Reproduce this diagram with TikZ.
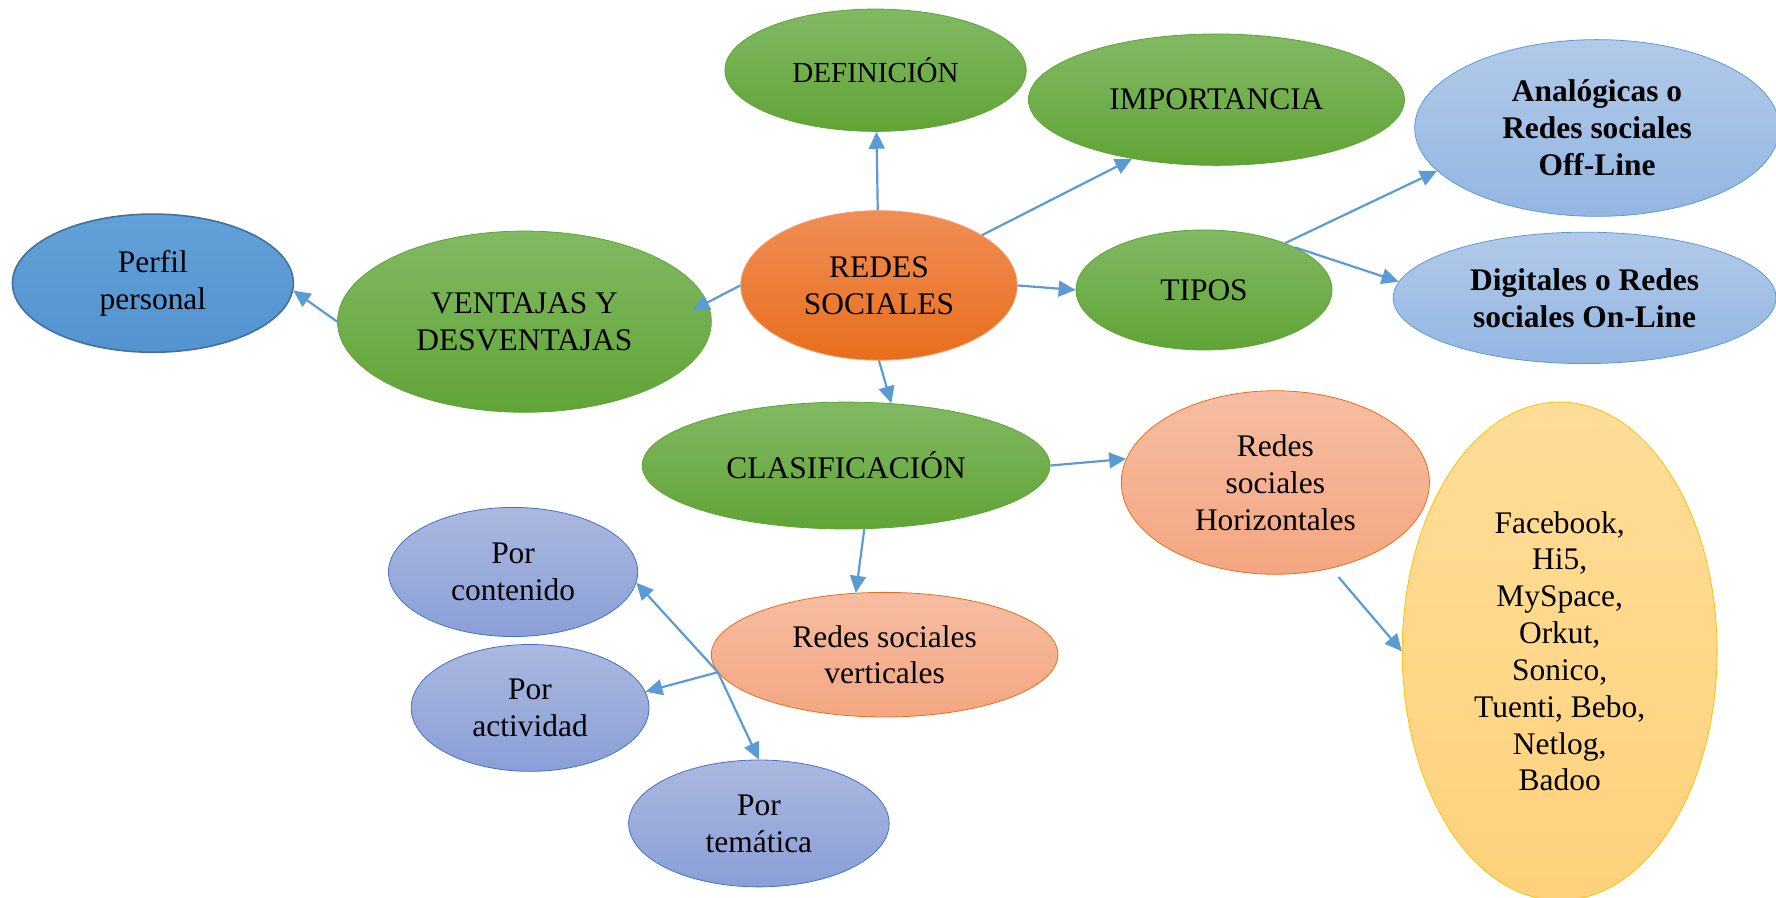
\documentclass[tikz,border=0pt]{standalone}
\usepackage{fontspec}
\setmainfont{Liberation Serif}
\usetikzlibrary{shapes.geometric,arrows.meta}

\definecolor{verdeA}{HTML}{82B963}
\definecolor{verdeB}{HTML}{60A436}
\definecolor{naranjaA}{HTML}{F08D55}
\definecolor{naranjaB}{HTML}{E86E1C}
\definecolor{naranjaC}{HTML}{F3A06C}
\definecolor{azulA}{HTML}{62A0D8}
\definecolor{azulB}{HTML}{5393D0}
\definecolor{azulC}{HTML}{41719C}
\definecolor{celesteA}{HTML}{B2CAE9}
\definecolor{celesteB}{HTML}{93B6E2}
\definecolor{salmonA}{HTML}{F6BDA2}
\definecolor{salmonB}{HTML}{F4A681}
\definecolor{amarilloA}{HTML}{FFDD98}
\definecolor{amarilloB}{HTML}{FED27C}
\definecolor{amarilloC}{HTML}{FFC000}
\definecolor{lilaA}{HTML}{ABB8DF}
\definecolor{lilaB}{HTML}{8A9FD7}
\definecolor{lilaC}{HTML}{4472C4}
\definecolor{flechaazul}{HTML}{5B9BD5}

\begin{document}
\begin{tikzpicture}[x=0.2mm,y=-0.2mm]
  \tikzset{burbuja/.style = {ellipse, inner sep = 0pt, align = center,
      font = \fontsize{15.8}{18.5}\selectfont},
    tam/.style 2 args = {minimum width = #1*0.4mm, minimum height = #2*0.4mm},
    verde/.style = {burbuja, top color = verdeA, bottom color = verdeB, draw = verdeB},
    naranja/.style = {burbuja, top color = naranjaA, bottom color = naranjaB, draw = naranjaC},
    azul/.style = {burbuja, top color = azulA, bottom color = azulB, draw = azulC, thick},
    celeste/.style = {burbuja, top color = celesteA, bottom color = celesteB, draw = flechaazul,
      font = \fontsize{15.8}{18.5}\selectfont\bfseries},
    salmon/.style = {burbuja, top color = salmonA, bottom color = salmonB, draw = naranjaB},
    amarillo/.style = {burbuja, top color = amarilloA, bottom color = amarilloB, draw = amarilloC},
    lila/.style = {burbuja, top color = lilaA, bottom color = lilaB, draw = lilaC},
    flecha/.style = {draw = flechaazul, line width = 1.1pt,
      -{Triangle[length = 3mm, width = 2.8mm]}}}
  \useasboundingbox (0,0) rectangle (1568,792);

  \node[naranja, tam={122}{66}] (redes) at (776,252) {REDES\\SOCIALES};
  \node[verde, tam={133}{54}, font=\fontsize{14.6}{17}\selectfont] (defin) at (773,62) {DEFINICIÓN};
  \node[verde, tam={166}{58}] (impor) at (1074,88) {IMPORTANCIA};
  \node[verde, tam={165}{80}] (ventajas) at (463,284) {VENTAJAS Y\\DESVENTAJAS};
  \node[azul, tam={124}{61}] (perfil) at (135,250) {Perfil\\personal};
  \node[verde, tam={113}{53}] (tipos) at (1063,256) {TIPOS};
  \node[celeste, tam={161}{78}] (analog) at (1410,113) {Analógicas o\\Redes sociales\\Off-Line};
  \node[celeste, tam={169}{58}] (digit) at (1399,263) {Digitales o Redes\\sociales On-Line};
  \node[verde, tam={180}{56}] (clasif) at (747,411) {CLASIFICACIÓN};
  \node[salmon, tam={136}{81}] (horiz) at (1126,426) {Redes\\sociales\\Horizontales};
  \node[amarillo, tam={139}{220}] (ejemplos) at (1377,575)
    {Facebook,\\Hi5,\\MySpace,\\Orkut,\\Sonico,\\Tuenti, Bebo,\\Netlog,\\Badoo};
  \node[salmon, tam={153}{55}] (vert) at (781,578) {Redes sociales\\verticales};
  \node[lila, tam={110}{57}] (conten) at (453,505) {Por\\contenido};
  \node[lila, tam={105}{56}] (activ) at (468,625) {Por\\actividad};
  \node[lila, tam={115}{56}] (tema) at (670,727) {Por\\temática};

  % flechas
  \draw[flecha] (redes) -- (defin);
  \draw[flecha] (redes.26) -- (impor.215);
  \draw[flecha, shorten >=-3mm] (redes.west) -- (ventajas.6);
  \draw[flecha] (ventajas.west) -- (perfil.-3);
  \draw[flecha] (redes.east) -- (tipos.west);
  \draw[flecha] (tipos.30) -- (analog.195);
  \draw[flecha] (tipos.25) -- (digit.175);
  \draw[flecha] (redes.south) -- (clasif.54);
  \draw[flecha] (clasif.east) -- (horiz.171);
  \draw[flecha] (clasif.-74) -- (vert.115);
  \draw[flecha, shorten <=2mm] (horiz.-57) -- (ejemplos.west);
  \draw[flecha] (vert.186) -- (conten.-5);
  \draw[flecha] (vert.186) -- (activ.8);
  \draw[flecha] (vert.186) -- (tema.north);
\end{tikzpicture}
\end{document}
